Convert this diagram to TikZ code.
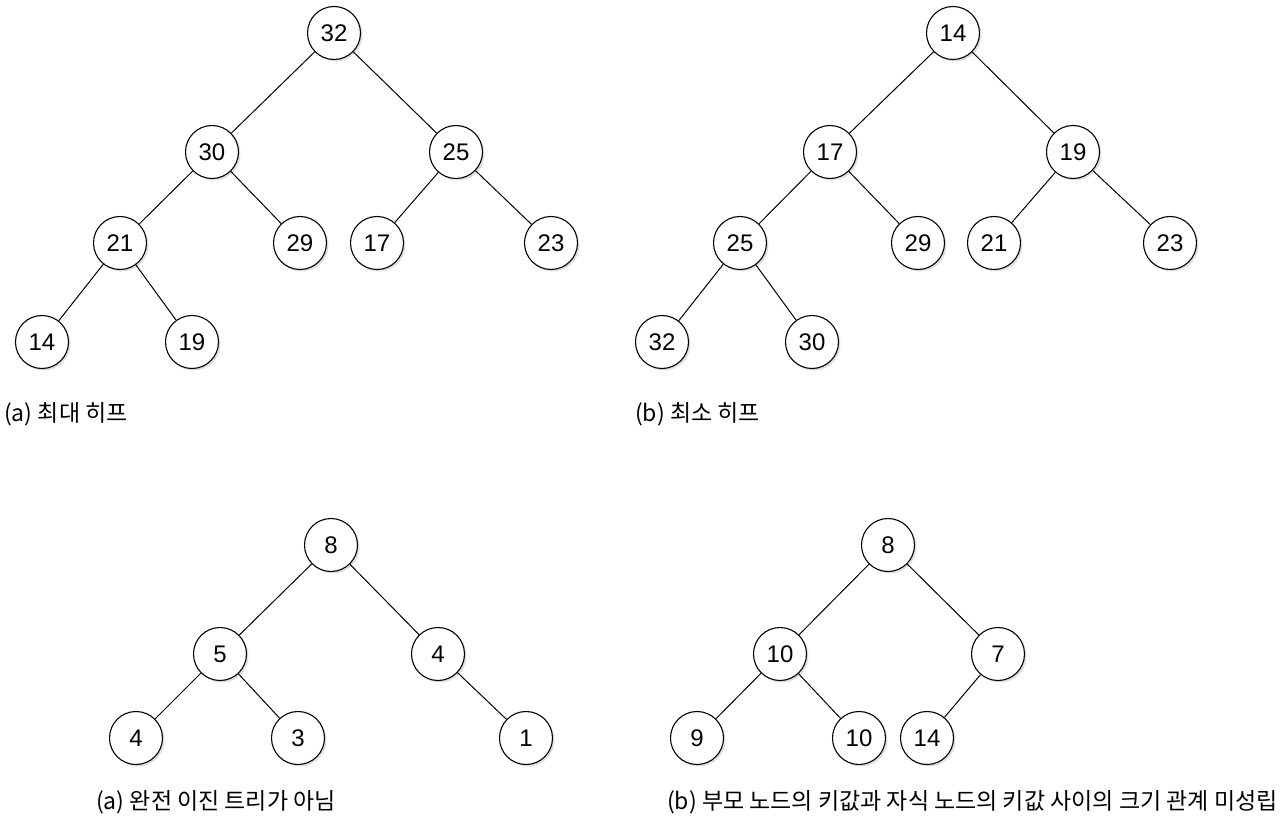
\documentclass[tikz,border=0pt]{standalone}
\usepackage{fontspec}
\setmainfont{Liberation Sans}
\newfontfamily\kr{Noto Sans CJK KR}
\usetikzlibrary{shadows}
\tikzset{
  hn/.style={circle, draw=black, line width=1.1pt, fill=white, minimum size=53pt, inner sep=0pt,
    font=\fontsize{24}{24}\selectfont,
    drop shadow={opacity=0.25, shadow xshift=2pt, shadow yshift=-2pt}},
  ed/.style={line width=1pt},
  captxt/.style={anchor=west, inner sep=0pt, font=\kr\fontsize{23}{23}\selectfont}
}
\begin{document}
\begin{tikzpicture}[x=1pt,y=-1pt]
\useasboundingbox (0,0) rectangle (1280,826);
% Tree 1: max heap
\node[hn] (a1) at (334,33) {32};
\node[hn] (a2) at (212,152) {30};
\node[hn] (a3) at (456,152) {25};
\node[hn] (a4) at (120,243) {21};
\node[hn] (a5) at (300,243) {29};
\node[hn] (a6) at (377,243) {17};
\node[hn] (a7) at (551,243) {23};
\node[hn] (a8) at (42,342) {14};
\node[hn] (a9) at (192,342) {19};
\draw[ed] (a1)--(a2) (a1)--(a3) (a2)--(a4) (a2)--(a5) (a3)--(a6) (a3)--(a7) (a4)--(a8) (a4)--(a9);
\node[captxt] (ca) at (4,414) {(a) 최대 히프};
% Tree 2: min heap
\node[hn] (b1) at (953,33) {14};
\node[hn] (b2) at (830,152) {17};
\node[hn] (b3) at (1073,152) {19};
\node[hn] (b4) at (740,243) {25};
\node[hn] (b5) at (918,243) {29};
\node[hn] (b6) at (994,243) {21};
\node[hn] (b7) at (1170,243) {23};
\node[hn] (b8) at (662,342) {32};
\node[hn] (b9) at (812,342) {30};
\draw[ed] (b1)--(b2) (b1)--(b3) (b2)--(b4) (b2)--(b5) (b3)--(b6) (b3)--(b7) (b4)--(b8) (b4)--(b9);
\node[captxt] (cb) at (635,414) {(b) 최소 히프};
% Tree 3
\node[hn] (c1) at (331,545) {8};
\node[hn] (c2) at (220,654) {5};
\node[hn] (c3) at (438,654) {4};
\node[hn] (c4) at (136,738) {4};
\node[hn] (c5) at (298,738) {3};
\node[hn] (c6) at (526,738) {1};
\draw[ed] (c1)--(c2) (c1)--(c3) (c2)--(c4) (c2)--(c5) (c3)--(c6);
\node[captxt] (cc) at (96,802) {(a) 완전 이진 트리가 아님};
% Tree 4
\node[hn] (d1) at (888,545) {8};
\node[hn] (d2) at (780,654) {10};
\node[hn] (d3) at (998,654) {7};
\node[hn] (d4) at (697,738) {9};
\node[hn] (d5) at (859,738) {10};
\node[hn] (d6) at (927,738) {14};
\draw[ed] (d1)--(d2) (d1)--(d3) (d2)--(d4) (d2)--(d5) (d3)--(d6);
\node[captxt] (cd) at (667,802) {(b) 부모 노드의 키값과 자식 노드의 키값 사이의 크기 관계 미성립};
\end{tikzpicture}
\end{document}
